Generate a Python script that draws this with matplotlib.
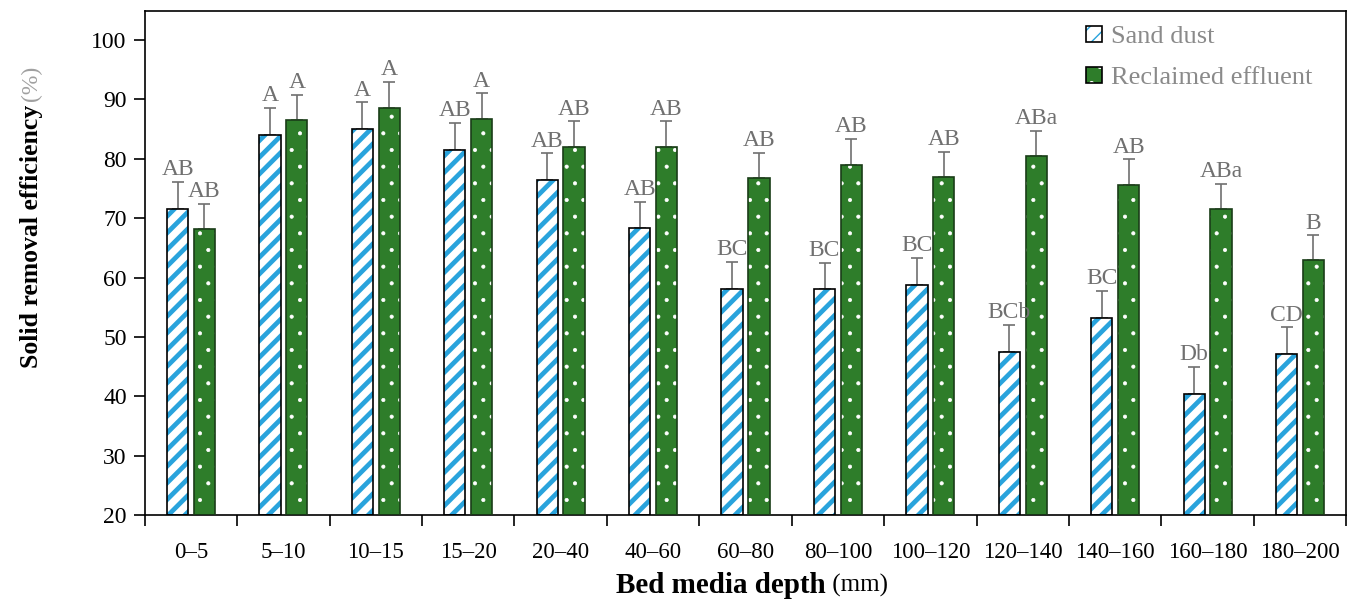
import matplotlib.pyplot as plt
from matplotlib.patches import Patch
from matplotlib.legend_handler import HandlerTuple
import numpy as np

plt.rcParams['font.family'] = ['Liberation Serif', 'DejaVu Serif']

depths = ['0–5', '5–10', '10–15', '15–20', '20–40', '40–60', '60–80',
          '80–100', '100–120', '120–140', '140–160', '160–180', '180–200']
sand = [71.5, 84.0, 85.0, 81.5, 76.4, 68.3, 58.0, 58.0, 58.8, 47.5, 53.2, 40.4, 47.1]
sand_err = [4.6, 4.6, 4.5, 4.5, 4.5, 4.5, 4.6, 4.5, 4.5, 4.5, 4.5, 4.6, 4.5]
effluent = [68.2, 86.5, 88.6, 86.7, 82.0, 82.0, 76.8, 79.0, 77.0, 80.5, 75.6, 71.5, 62.9]
effluent_err = [4.2, 4.2, 4.3, 4.3, 4.3, 4.3, 4.2, 4.3, 4.2, 4.2, 4.3, 4.3, 4.2]
sand_lbl = ['AB', 'A', 'A', 'AB', 'AB', 'AB', 'BC', 'BC', 'BC', 'BCb', 'BC', 'Db', 'CD']
effluent_lbl = ['AB', 'A', 'A', 'A', 'AB', 'AB', 'AB', 'AB', 'AB', 'ABa', 'AB', 'ABa', 'B']

blue = '#29a3dc'
green = '#2e7d2a'
grey = '#707070'


def hatch_lw(artists, lw):
    # per-artist hatch width (matplotlib >= 3.10)
    for a in artists:
        if hasattr(a, 'set_hatch_linewidth'):
            a.set_hatch_linewidth(lw)


fig = plt.figure(figsize=(13.53, 6.04), dpi=100)
ax = fig.add_axes([0.107, 0.147, 0.888, 0.835])

x = np.arange(len(depths))
w = 0.23
off = 0.145

# hatched fills (hatch takes the edge colour), outlines drawn on top
b1 = ax.bar(x - off, np.array(sand) - 20, w, bottom=20, color='white',
            edgecolor=blue, hatch='//', linewidth=0, zorder=2)
b2 = ax.bar(x + off, np.array(effluent) - 20, w, bottom=20, color=green,
            edgecolor='white', hatch='.', linewidth=0, zorder=2)
hatch_lw(b1, 3.4)
hatch_lw(b2, 0.5)
ax.bar(x - off, np.array(sand) - 20, w, bottom=20, fill=False,
       edgecolor='black', linewidth=1.2, zorder=3)
ax.bar(x + off, np.array(effluent) - 20, w, bottom=20, fill=False,
       edgecolor='#1a3d18', linewidth=1.2, zorder=3)

ax.errorbar(x - off, sand, yerr=[np.zeros(len(x)), sand_err], fmt='none',
            ecolor=grey, elinewidth=1.2, capsize=4.5, capthick=1.2, zorder=1)
ax.errorbar(x + off, effluent, yerr=[np.zeros(len(x)), effluent_err], fmt='none',
            ecolor=grey, elinewidth=1.2, capsize=4.5, capthick=1.2, zorder=1)

for i in range(len(x)):
    ax.text(x[i] - off, sand[i] + sand_err[i] + 0.3, sand_lbl[i], ha='center',
            va='bottom', fontsize=17, color=grey)
    ax.text(x[i] + off, effluent[i] + effluent_err[i] + 0.3, effluent_lbl[i],
            ha='center', va='bottom', fontsize=17, color=grey)

ax.set_xlim(-0.5, len(x) - 0.5)
ax.set_ylim(20, 104.9)
ax.set_yticks(range(20, 101, 10))
ax.set_xticks(x)
ax.set_xticklabels(depths)
ax.set_xticks(np.arange(-0.5, len(x), 1), minor=True)
ax.tick_params(axis='x', which='major', length=0, pad=19, labelsize=16.5)
ax.tick_params(axis='x', which='minor', length=8, width=1.2, direction='out')
ax.tick_params(axis='y', length=8, width=1.2, direction='out', labelsize=17, pad=5)
for s in ax.spines.values():
    s.set_linewidth(1.2)

ax.text(0.5666, -0.139, 'Bed media depth', transform=ax.transAxes, ha='right',
        va='center', fontsize=21, fontweight='bold')
ax.text(0.5666, -0.139, ' (mm)', transform=ax.transAxes, ha='left',
        va='center', fontsize=18)
ax.text(-0.094, 0.814, 'Solid removal efficiency', transform=ax.transAxes,
        rotation=90, ha='center', va='top', fontsize=18.5, fontweight='bold')
ax.text(-0.094, 0.822, '(%)', transform=ax.transAxes, rotation=90,
        ha='center', va='bottom', fontsize=17, color='#a0a0a0')

h_sand = Patch(facecolor='white', edgecolor=blue, hatch='//', linewidth=0)
h_eff = Patch(facecolor=green, edgecolor='white', hatch='.', linewidth=0)
hatch_lw([h_sand], 3.0)
hatch_lw([h_eff], 0.5)
h_out = Patch(facecolor='none', edgecolor='black', linewidth=1.2)
leg = ax.legend([(h_sand, h_out), (h_eff, h_out)], ['Sand dust', 'Reclaimed effluent'],
                handler_map={tuple: HandlerTuple(ndivide=1, pad=0)},
                loc='upper left', bbox_to_anchor=(0.7725, 0.997), frameon=False,
                fontsize=19, handlelength=0.6, handleheight=0.6,
                handletextpad=0.35, labelspacing=0.7, borderpad=0)
for t in leg.get_texts():
    t.set_color('#8a8a8a')

fig.savefig('out.png', dpi=100)
